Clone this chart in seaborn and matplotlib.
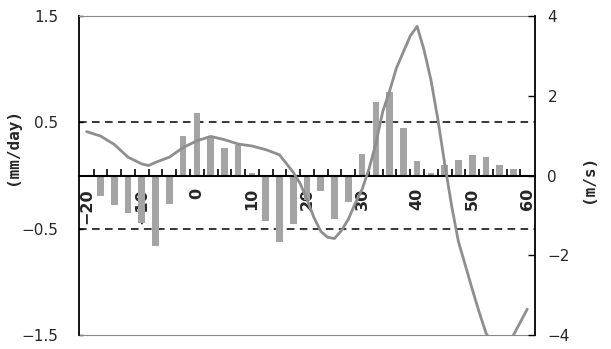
import numpy as np
import matplotlib
matplotlib.use("Agg")
import matplotlib.pyplot as plt
import seaborn as sns

# Composite days relative to onset (pentad-half steps)
days = [-20, -17.5, -15, -12.5, -10, -7.5, -5, -2.5, 0, 2.5, 5, 7.5, 10,
        12.5, 15, 17.5, 20, 22.5, 25, 27.5, 30, 32.5, 35, 37.5, 40, 42.5,
        45, 47.5, 50, 52.5, 55, 57.5, 60]

# Precipitation anomaly (mm/day), left axis
precip = [0.0, -0.19, -0.28, -0.35, -0.45, -0.66, -0.27, 0.37, 0.59, 0.37,
          0.26, 0.29, 0.02, -0.43, -0.63, -0.46, -0.23, -0.15, -0.41, -0.25,
          0.20, 0.69, 0.79, 0.45, 0.14, 0.02, 0.10, 0.15, 0.19, 0.17, 0.10,
          0.06, 0.0]

# Wind anomaly (m/s), right axis
wind_days = [-20, -17.5, -15, -12.5, -10, -8.75, -7.5, -5, -2.5, 0, 2.5, 5,
             7.5, 10, 12.5, 15, 16.25, 17.5, 18.75, 20, 21.25, 22.5, 23.75,
             25, 26.25, 27.5, 28.75, 30, 31.25, 32.5, 33.75, 35, 36.25, 37.5,
             38.75, 40, 41.25, 42.5, 43.75, 45, 46.25, 47.5, 48.75, 50, 51.25,
             52.5, 55, 57.5, 60]
wind = [1.10, 0.99, 0.78, 0.46, 0.29, 0.25, 0.33, 0.46, 0.70, 0.87, 0.98,
        0.90, 0.79, 0.74, 0.65, 0.52, 0.30, 0.08, -0.20, -0.60, -1.05, -1.40,
        -1.55, -1.58, -1.38, -1.10, -0.70, -0.35, 0.16, 0.80, 1.60, 2.12,
        2.70, 3.10, 3.50, 3.74, 3.15, 2.40, 1.42, 0.30, -0.75, -1.66, -2.25,
        -2.85, -3.42, -3.95, -4.55, -4.00, -3.35]

x_labels = [-20, -10, 0, 10, 20, 30, 40, 50, 60]
left_ticks = [1.5, 0.5, -0.5, -1.5]
right_ticks = [4, 2, 0, -2, -4]

sns.set_theme(style="white")
plt.rcParams["font.family"] = ["DejaVu Sans"]

bar_color = "#a4a4a4"
line_color = "#8e8e8e"
frame_gray = "#8a8a8a"

fig = plt.figure(figsize=(6.11, 3.49), dpi=100)
ax = fig.add_axes([0.1293, 0.0401, 0.7463, 0.914])
ax2 = ax.twinx()

sns.barplot(x=days, y=precip, ax=ax, native_scale=True, width=0.48,
            color=bar_color, saturation=1, edgecolor="none")
sns.lineplot(x=wind_days, y=wind, ax=ax2, color=line_color, lw=2.0)

ax.set_xlim(-21.4, 61.4)
ax.set_ylim(-1.5, 1.5)
ax2.set_ylim(-4, 4)

# reference levels
for lvl in (0.5, -0.5):
    ax.axhline(lvl, color="black", lw=1.1, ls=(0, (5, 3.5)), zorder=0.5)

# x axis sits on the zero line
ax.spines["bottom"].set_position(("data", 0))
ax.spines["bottom"].set_color("black")
ax.spines["bottom"].set_linewidth(1.5)
ax.spines["top"].set_color(frame_gray)
ax.spines["top"].set_linewidth(0.8)
ax.spines["left"].set_color("black")
ax.spines["left"].set_linewidth(1.3)
ax.spines["right"].set_visible(False)
ax.plot([0, 1], [0, 0], transform=ax.transAxes, color=frame_gray, lw=0.8,
        clip_on=False)
for side in ("left", "top", "bottom"):
    ax2.spines[side].set_visible(False)
ax2.spines["right"].set_color("black")
ax2.spines["right"].set_linewidth(1.3)

ax.set_xticks(x_labels)
ax.set_xticklabels([str(v).replace("-", "\u2212") for v in x_labels])
ax.set_xticks(np.arange(-18.75, 60, 2.5), minor=True)
ax.tick_params(axis="x", which="major", length=0, pad=9, labelrotation=90,
               labelsize=11.5, bottom=True)
ax.tick_params(axis="x", which="minor", direction="in", length=5, width=1.2,
               color="black", bottom=True)
for lab in ax.get_xticklabels():
    lab.set_fontweight("bold")

ax.set_yticks(left_ticks)
ax.set_yticklabels(["1.5", "0.5", "\u22120.5", "\u22121.5"])
ax.tick_params(axis="y", direction="in", length=3, width=1, color="black",
               pad=15, labelsize=11, left=True)

ax2.set_yticks(right_ticks)
ax2.set_yticklabels(["4", "2", "0", "\u22122", "\u22124"])
ax2.tick_params(axis="y", direction="in", length=5, width=1, color="black",
                pad=9, labelsize=11, right=True)

ax.set_xlabel("")
ax.set_ylabel("(mm/day)", fontsize=11.5, fontweight="bold",
              family=["DejaVu Sans Mono"])
ax.yaxis.set_label_coords(-0.13, 0.59)
ax2.set_xlabel("")
ax2.set_ylabel("(m/s)", fontsize=11.5, fontweight="bold",
               family=["DejaVu Sans Mono"], rotation=90)
ax2.yaxis.set_label_coords(1.10, 0.49)

fig.savefig("out.png", dpi=100)
